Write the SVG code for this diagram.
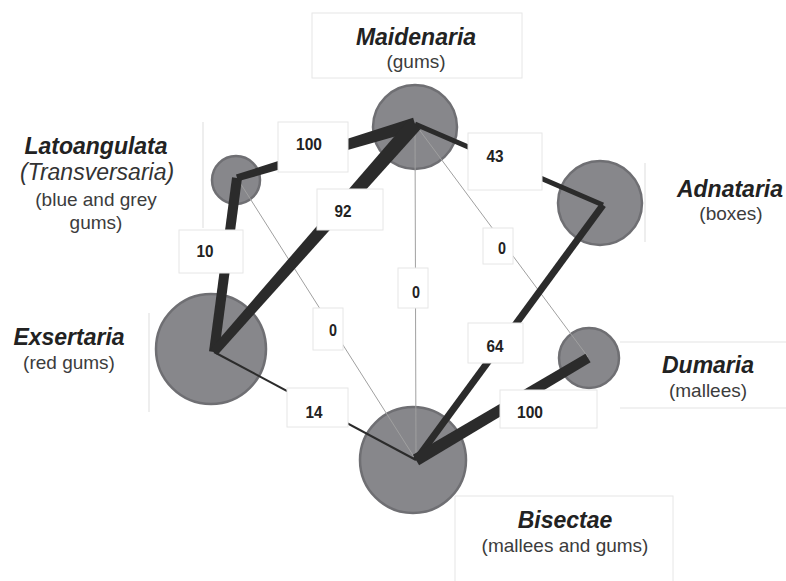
<svg xmlns="http://www.w3.org/2000/svg" width="786" height="581" viewBox="0 0 786 581">
  <style>
    .node { fill: #87878b; stroke: #6f6f73; stroke-width: 2.5; }
    .frame { fill: #ffffff; stroke: #e6e6e6; stroke-width: 1; }
    .rule { stroke: #e3e3e3; stroke-width: 1.2; fill: none; }
    .heavy { fill: #2b2b2b; }
    .link { stroke: #2b2b2b; stroke-linecap: butt; fill: none; }
    .faint { stroke: #a0a0a0; stroke-width: 1; fill: none; }
    .num { font-family: "Liberation Sans Narrow", "Liberation Sans", Arial, sans-serif; font-weight: bold; font-size: 17px; fill: #222; text-anchor: middle; }
    .title { font-family: "Liberation Sans", Arial, sans-serif; font-weight: bold; font-style: italic; font-size: 23px; fill: #222; text-anchor: middle; }
    .alt { font-family: "Liberation Sans", Arial, sans-serif; font-style: italic; font-size: 23px; fill: #333; text-anchor: middle; }
    .sub { font-family: "Liberation Sans", Arial, sans-serif; font-size: 19px; fill: #3c3c3c; text-anchor: middle; }
  </style>

  <!-- section circles -->
  <g id="maidenaria"><circle class="node" cx="415" cy="127" r="42"/></g>
  <g id="latoangulata"><circle class="node" cx="236" cy="180" r="24"/></g>
  <g id="exsertaria"><circle class="node" cx="211" cy="349" r="55"/></g>
  <g id="bisectae"><circle class="node" cx="413" cy="460" r="53"/></g>
  <g id="adnataria"><circle class="node" cx="600" cy="203" r="42"/></g>
  <g id="dumaria"><circle class="node" cx="589" cy="358" r="30"/></g>

  <!-- connectors, width by value -->
  <g id="connectors">
    <line class="faint" x1="415" y1="124" x2="416" y2="460"/>
    <line class="faint" x1="415" y1="124" x2="588" y2="357"/>
    <line class="faint" x1="237" y1="178" x2="416" y2="460"/>
    <line class="link" stroke-width="2" x1="214" y1="352" x2="416" y2="460"/>
    <line class="link" stroke-width="5" x1="415" y1="124" x2="603" y2="205"/>
    <line class="link" stroke-width="7" x1="603" y1="205" x2="416" y2="460"/>
    <line class="link" stroke-width="10" x1="237" y1="178" x2="214" y2="352"/>
    <polygon class="heavy" points="236.0,174.6 413.1,117.8 416.9,130.2 238.0,181.3"/>
    <polygon class="heavy" points="210.6,349.0 409.4,119.0 420.6,129.0 217.4,355.0"/>
    <polygon class="heavy" points="585.4,353.7 412.9,454.8 419.1,465.2 590.6,362.3"/>
  </g>

  <!-- value labels -->
  <g id="values">
    <rect class="frame" x="278" y="122" width="70" height="50"/>
    <text class="num" x="309" y="150" textLength="26" lengthAdjust="spacingAndGlyphs">100</text>
    <rect class="frame" x="317" y="189" width="66" height="41"/>
    <text class="num" x="343" y="217" textLength="17" lengthAdjust="spacingAndGlyphs">92</text>
    <rect class="frame" x="179" y="230" width="64" height="43"/>
    <text class="num" x="205" y="257" textLength="17" lengthAdjust="spacingAndGlyphs">10</text>
    <rect class="frame" x="468" y="133" width="74" height="57"/>
    <text class="num" x="495" y="162" textLength="17" lengthAdjust="spacingAndGlyphs">43</text>
    <rect class="frame" x="483" y="228" width="30" height="36"/>
    <text class="num" x="502" y="254" textLength="8" lengthAdjust="spacingAndGlyphs">0</text>
    <rect class="frame" x="398" y="268" width="30" height="40"/>
    <text class="num" x="416" y="298" textLength="8" lengthAdjust="spacingAndGlyphs">0</text>
    <rect class="frame" x="313" y="308" width="30" height="42"/>
    <text class="num" x="333" y="336" textLength="8" lengthAdjust="spacingAndGlyphs">0</text>
    <rect class="frame" x="287" y="388" width="61" height="39"/>
    <text class="num" x="314" y="418" textLength="17" lengthAdjust="spacingAndGlyphs">14</text>
    <rect class="frame" x="468" y="323" width="55" height="40"/>
    <text class="num" x="495" y="352" textLength="17" lengthAdjust="spacingAndGlyphs">64</text>
    <rect class="frame" x="500" y="390" width="97" height="38"/>
    <text class="num" x="530" y="418" textLength="26" lengthAdjust="spacingAndGlyphs">100</text>
  </g>

  <!-- section names -->
  <g id="label-maidenaria">
    <rect class="frame" x="312" y="13" width="210" height="65"/>
    <text class="title" x="416" y="45">Maidenaria</text>
    <text class="sub" x="416" y="68">(gums)</text>
  </g>
  <g id="label-latoangulata">
    <line class="rule" x1="203" y1="122" x2="203" y2="228"/>
    <text class="title" x="96" y="154">Latoangulata</text>
    <text class="alt" x="97" y="180">(Transversaria)</text>
    <text class="sub" x="96" y="206">(blue and grey</text>
    <text class="sub" x="96" y="229">gums)</text>
  </g>
  <g id="label-exsertaria">
    <line class="rule" x1="149" y1="313" x2="149" y2="412"/>
    <text class="title" x="69" y="345">Exsertaria</text>
    <text class="sub" x="69" y="369">(red gums)</text>
  </g>
  <g id="label-adnataria">
    <line class="rule" x1="645" y1="163" x2="645" y2="242"/>
    <text class="title" x="730" y="197">Adnataria</text>
    <text class="sub" x="731" y="220">(boxes)</text>
  </g>
  <g id="label-dumaria">
    <line class="rule" x1="620" y1="342" x2="786" y2="342"/>
    <line class="rule" x1="620" y1="408" x2="786" y2="408"/>
    <text class="title" x="708" y="373">Dumaria</text>
    <text class="sub" x="708" y="397">(mallees)</text>
  </g>
  <g id="label-bisectae">
    <rect class="frame" x="455" y="496" width="218" height="95"/>
    <text class="title" x="565" y="528">Bisectae</text>
    <text class="sub" x="565" y="552">(mallees and gums)</text>
  </g>
</svg>
